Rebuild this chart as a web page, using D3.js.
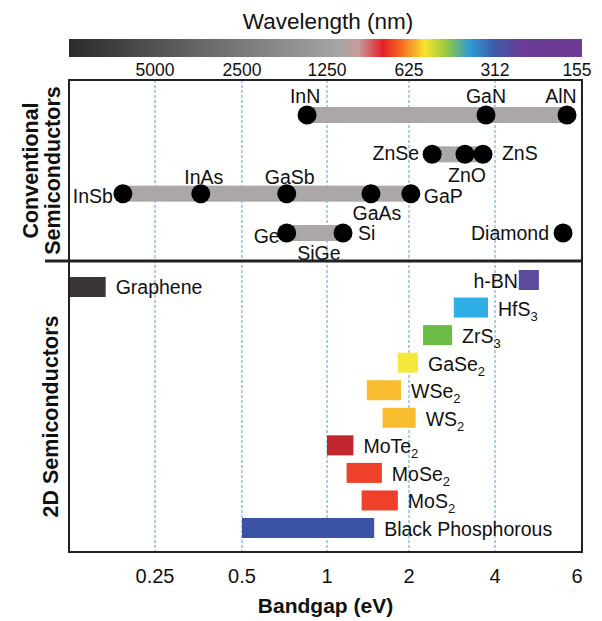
<!DOCTYPE html>
<html>
<head>
<meta charset="utf-8">
<script src="https://cdn.jsdelivr.net/npm/d3@7"></script>
<style>
  body { margin: 0; background: #fff; }
  svg text { font-family: Arial, "Liberation Sans", sans-serif; fill: #111; }
</style>
</head>
<body>
<svg id="chart" width="602" height="621"></svg>
<script>
// Bandgap axis ticks and matching wavelength labels
const bandgapTicks = [0.25, 0.5, 1, 2, 4, 6];
const wavelengthLabels = ["5000", "2500", "1250", "625", "312", "155"];

// Conventional semiconductors (eV), row = which line they sit on
const convNames = ["InN", "GaN", "AlN", "ZnSe", "ZnO", "ZnS", "InSb", "InAs", "GaSb", "GaAs", "GaP", "Ge", "Si", "Diamond"];
const convGaps  = [0.85, 3.72, 5.71, 2.41, 3.14, 3.63, 0.193, 0.36, 0.72, 1.45, 2.03, 0.72, 1.145, 5.6];
const convRows  = [0, 0, 0, 1, 1, 1, 2, 2, 2, 2, 2, 3, 3, 3];
// alloy ranges (from, to) drawn as grey bars
const alloyBars = [["InN", "AlN"], ["ZnSe", "ZnS"], ["InSb", "GaP"], ["Ge", "Si"]];

// 2D semiconductors: bandgap range (eV)
const twoDNames = ["h-BN", "HfS3", "ZrS3", "GaSe2", "WSe2", "WS2", "MoTe2", "MoSe2", "MoS2", "Black Phosphorous"];
const twoDMin   = [4.5, 2.87, 2.24, 1.82, 1.40, 1.60, 1.0, 1.18, 1.34, 0.5];
const twoDMax   = [4.97, 3.78, 2.83, 2.15, 1.87, 2.11, 1.25, 1.59, 1.82, 1.49];
const graphene  = [0.125, 0.168];

// styles
const twoDColors = ["#5b4b9d", "#2eaee4", "#6cbd45", "#f6e83a", "#fbbd30", "#fbbd30", "#c1272d", "#ef4129", "#ef4129", "#3a53a4"];
const spectrumStops = [
    [0, "#2b2b2b"], [0.528, "#a6a6a6"], [0.565, "#c99a9a"], [0.612, "#e6202a"],
    [0.648, "#f36c21"], [0.694, "#f8e52f"], [0.735, "#97c93e"], [0.782, "#2f9bd6"],
    [0.83, "#3d5aa8"], [0.88, "#6a3d97"], [1, "#6f3a96"]
];
// label placement for conventional semiconductors: [dx, dy, anchor]
const convLabelPos = {
    InN: [-2, -12, "middle"], GaN: [0, -12, "middle"], AlN: [-6, -12, "middle"],
    ZnSe: [-13, 6, "end"], ZnO: [2, 28, "middle"], ZnS: [19, 6, "start"],
    InSb: [-10, 9, "end"], InAs: [3, -10, "middle"], GaSb: [3, -10, "middle"],
    GaAs: [6, 26, "middle"], GaP: [13, 9, "start"],
    Ge: [-7, 10, "end"], Si: [15, 7, "start"], Diamond: [-14, 7, "end"]
};

const plotLeft = 69, plotRight = 582, plotTop = 80, plotMid = 261, plotBottom = 552;
const svg = d3.select("#chart");

// piecewise log axis, as in the original figure
const x = d3.scaleLog()
    .domain([0.125, 0.25, 0.5, 1, 2, 4, 6])
    .range([69, 155, 242, 327, 409, 495, 577]);

const yConv = d3.scaleLinear().domain([0, 3]).range([115, 233]);
const y2D = d3.scalePoint().domain(twoDNames).range([280, 528]);

// colour bar
const grad = svg.append("defs").append("linearGradient").attr("id", "spec");
grad.selectAll("stop").data(spectrumStops).enter().append("stop")
    .attr("offset", d => d[0]).attr("stop-color", d => d[1]);

svg.append("text").attr("x", 328).attr("y", 29)
    .attr("text-anchor", "middle").style("font-size", "22.5px")
    .text("Wavelength (nm)");
svg.append("rect").attr("x", plotLeft).attr("y", 39)
    .attr("width", plotRight - plotLeft).attr("height", 18)
    .attr("fill", "url(#spec)");

svg.append("g").selectAll("text").data(bandgapTicks).enter().append("text")
    .attr("x", d => x(d)).attr("y", 76)
    .attr("text-anchor", "middle").style("font-size", "17.5px")
    .text((d, i) => wavelengthLabels[i]);

// gridlines
svg.append("g").selectAll("line").data(bandgapTicks.slice(0, -1)).enter().append("line")
    .attr("x1", d => x(d)).attr("x2", d => x(d))
    .attr("y1", plotTop).attr("y2", plotBottom)
    .attr("stroke", "#5b9fdc").attr("stroke-width", 1)
    .attr("stroke-dasharray", "3,2");

// conventional panel
const conv = convNames.map((n, i) => ({ name: n, gap: convGaps[i], row: convRows[i] }));
const byName = n => conv.find(c => c.name === n);

svg.append("g").selectAll("rect").data(alloyBars).enter().append("rect")
    .attr("x", d => x(byName(d[0]).gap))
    .attr("width", d => x(byName(d[1]).gap) - x(byName(d[0]).gap))
    .attr("y", d => yConv(byName(d[0]).row) - 8)
    .attr("height", 16)
    .attr("fill", "#aba7a7");

svg.append("g").selectAll("circle").data(conv).enter().append("circle")
    .attr("cx", d => x(d.gap)).attr("cy", d => yConv(d.row))
    .attr("r", 9.5).attr("fill", "#000");

svg.append("g").selectAll("text").data(conv).enter().append("text")
    .attr("x", d => x(d.gap) + convLabelPos[d.name][0])
    .attr("y", d => yConv(d.row) + convLabelPos[d.name][1])
    .attr("text-anchor", d => convLabelPos[d.name][2])
    .style("font-size", "19.5px")
    .text(d => d.name);

// SiGe alloy label under the Ge-Si bar
svg.append("text")
    .attr("x", (x(byName("Ge").gap) + x(byName("Si").gap)) / 2 + 4)
    .attr("y", yConv(3) + 27)
    .attr("text-anchor", "middle").style("font-size", "19.5px")
    .text("SiGe");

// 2D panel
svg.append("rect")
    .attr("x", x(graphene[0]) + 1).attr("y", y2D("h-BN") - 3)
    .attr("width", x(graphene[1]) - x(graphene[0]) - 1).attr("height", 20)
    .attr("fill", "#3a3536");
svg.append("text")
    .attr("x", x(graphene[1]) + 10).attr("y", y2D("h-BN") + 14)
    .style("font-size", "19.5px").text("Graphene");

const twoD = twoDNames.map((n, i) => ({ name: n, lo: twoDMin[i], hi: twoDMax[i], color: twoDColors[i] }));

svg.append("g").selectAll("rect").data(twoD).enter().append("rect")
    .attr("x", d => x(d.lo)).attr("width", d => x(d.hi) - x(d.lo))
    .attr("y", d => y2D(d.name) - 10).attr("height", 20)
    .attr("fill", d => d.color);

const labels = svg.append("g").selectAll("text").data(twoD).enter().append("text")
    .attr("x", d => d.name === "h-BN" ? x(d.lo) - 1 : x(d.hi) + 10)
    .attr("y", d => y2D(d.name) + 8)
    .attr("text-anchor", d => d.name === "h-BN" ? "end" : "start")
    .style("font-size", "19.5px");

labels.each(function(d) {
    const t = d3.select(this);
    const m = d.name.match(/^([A-Za-z]+?)(\d)$/);
    if (m && d.name !== "h-BN") {
        t.append("tspan").text(m[1]);
        t.append("tspan").attr("dy", 5).style("font-size", "13px").text(m[2]);
    } else {
        t.text(d.name);
    }
});

// frame
svg.append("rect").attr("x", plotLeft).attr("y", plotTop)
    .attr("width", plotRight - plotLeft).attr("height", plotBottom - plotTop)
    .attr("fill", "none").attr("stroke", "#222").attr("stroke-width", 2);
svg.append("line").attr("x1", 45).attr("x2", plotRight)
    .attr("y1", plotMid).attr("y2", plotMid)
    .attr("stroke", "#222").attr("stroke-width", 3);

// bottom axis labels
svg.append("g").selectAll("text").data(bandgapTicks).enter().append("text")
    .attr("x", d => x(d)).attr("y", 583)
    .attr("text-anchor", "middle").style("font-size", "20px")
    .text(d => d);
svg.append("text").attr("x", (plotLeft + plotRight) / 2).attr("y", 613)
    .attr("text-anchor", "middle").style("font-size", "21px").style("font-weight", "bold")
    .text("Bandgap (eV)");

// panel titles
const convTitle = svg.append("text")
    .attr("transform", `translate(0,${(plotTop + plotMid) / 2}) rotate(-90)`)
    .attr("text-anchor", "middle").style("font-size", "21.5px").style("font-weight", "bold");
convTitle.append("tspan").attr("x", 0).attr("y", 38).text("Conventional");
convTitle.append("tspan").attr("x", 0).attr("y", 60).text("Semiconductors");

svg.append("text")
    .attr("transform", `translate(58,${(plotMid + plotBottom) / 2 + 10}) rotate(-90)`)
    .attr("text-anchor", "middle").style("font-size", "21.5px").style("font-weight", "bold")
    .text("2D Semiconductors");
</script>
</body>
</html>
